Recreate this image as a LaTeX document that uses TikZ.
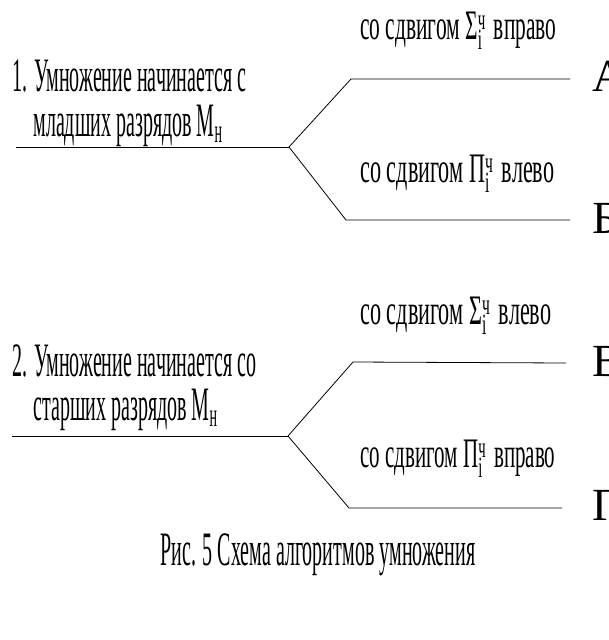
\documentclass[tikz,border=0pt]{standalone}
\usepackage{fontspec}
\setmainfont{Liberation Serif}
\usetikzlibrary{positioning}
% squeeze a text to a given width, keeping its height
\newcommand{\fitw}[2]{\resizebox{#1}{\height}{#2}}
\newcommand{\SgSym}{Σ\rlap{\textsuperscript{ч}}\textsubscript{i}\kern0.3em}
\newcommand{\PiSym}{П\rlap{\textsuperscript{ч}}\textsubscript{i}\kern0.3em}

\begin{document}
\begin{tikzpicture}[x=1pt,y=-1pt,line width=0.8pt,
 txt/.style={anchor=base west,inner sep=0pt,font=\fontsize{48}{50}\selectfont},
 shft/.style={anchor=base west,inner sep=0pt,font=\fontsize{42}{44}\selectfont},
 lett/.style={anchor=base west,inner sep=0pt,font=\fontsize{46}{48}\selectfont}]
\useasboundingbox (0,0) rectangle (608,640);

% first scheme
\node[txt](t1a) at (12,91){\fitw{234pt}{1. Умножение начинается с}};
\node[txt](t1b) at (33,136){\fitw{189pt}{младших разрядов М\textsubscript{н}}};
\coordinate (s1) at (16,147);
\coordinate (f1) at (289,147);
\coordinate (u1) at (351,79);
\coordinate (ue1) at (570,79);
\coordinate (d1) at (346,220);
\coordinate (de1) at (570,220);
\draw (s1)--(f1);
\draw (f1)--(u1)--(ue1);
\draw (f1)--(d1)--(de1);
\node[shft](sA) at (360,39){\fitw{196pt}{со сдвигом \SgSym\ вправо}};
\node[shft](sB) at (360,182){\fitw{194pt}{со сдвигом \PiSym\ влево}};
\node[lett](lA) at (592,91){А};
\node[lett](lB) at (592,233){Б};

% second scheme
\node[txt](t2a) at (12,376){\fitw{244pt}{2. Умножение начинается со}};
\node[txt](t2b) at (33,420){\fitw{184pt}{старших разрядов М\textsubscript{н}}};
\coordinate (s2) at (12,436);
\coordinate (f2) at (288,436);
\coordinate (u2) at (353,362);
\coordinate (ue2) at (566,363);
\coordinate (d2) at (349,508);
\coordinate (de2) at (562,508);
\draw (s2)--(f2);
\draw (f2)--(u2)--(ue2);
\draw (f2)--(d2)--(de2);
\node[shft](sV) at (360,324){\fitw{191pt}{со сдвигом \SgSym\ влево}};
\node[shft](sG) at (360,467){\fitw{195pt}{со сдвигом \PiSym\ вправо}};
\node[lett](lV) at (592,376){В};
\node[lett](lG) at (592,520){Г};

\node[txt](cap) at (160,565){\fitw{315pt}{Рис. 5 Схема алгоритмов умножения}};
\end{tikzpicture}
\end{document}
